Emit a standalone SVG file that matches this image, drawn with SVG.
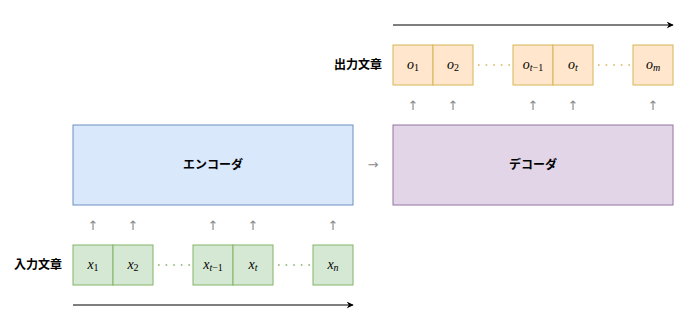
<svg xmlns="http://www.w3.org/2000/svg" width="690" height="327" viewBox="0 0 690 327">
<defs>
<marker id="ah" viewBox="0 0 10 10" refX="9" refY="5" markerWidth="7" markerHeight="7" markerUnits="userSpaceOnUse" orient="auto"><path d="M0,0 L10,5 L0,10 L3,5 Z" fill="#000"/></marker>
</defs>
<style>
.in{fill:#d5e8d4;stroke:#82b366;stroke-width:1}
.out{fill:#ffe6cc;stroke:#d6b656;stroke-width:1}
.enc{fill:#dae8fc;stroke:#6c8ebf;stroke-width:1}
.dec{fill:#e1d5e7;stroke:#9673a6;stroke-width:1}
.m{font-family:"Liberation Serif",serif;font-style:italic;font-size:14px;fill:#000;text-anchor:middle}
.sub{font-size:10px;font-style:normal}
.subi{font-size:10px;font-style:italic}
.lbl{font-family:"Noto Sans CJK JP","Noto Sans",sans-serif;font-weight:bold;font-size:12px;fill:#000}
.big{font-family:"Noto Sans CJK JP","Noto Sans",sans-serif;font-weight:bold;font-size:12px;fill:#000;text-anchor:middle}
.up{font-family:"DejaVu Sans",sans-serif;font-size:13px;fill:#8c8c8c;text-anchor:middle}
.dotg{stroke:#82b366;stroke-width:1.6;stroke-dasharray:1.6 6;fill:none}
.doto{stroke:#d6b656;stroke-width:1.6;stroke-dasharray:1.6 6;fill:none}
</style>
<g id="connectors">
<line x1="73" y1="305" x2="353" y2="305" stroke="#000" stroke-width="1.2" marker-end="url(#ah)"/>
<line x1="393" y1="25" x2="673" y2="25" stroke="#000" stroke-width="1.2" marker-end="url(#ah)"/>
<line class="dotg" x1="158" y1="265" x2="192" y2="265"/>
<line class="dotg" x1="278" y1="265" x2="312" y2="265"/>
<line class="doto" x1="478" y1="65" x2="512" y2="65"/>
<line class="doto" x1="598" y1="65" x2="632" y2="65"/>
<text class="up" x="93" y="230">↑</text>
<text class="up" x="133" y="230">↑</text>
<text class="up" x="213" y="230">↑</text>
<text class="up" x="253" y="230">↑</text>
<text class="up" x="333" y="230">↑</text>
<text class="up" x="413" y="110">↑</text>
<text class="up" x="453" y="110">↑</text>
<text class="up" x="533" y="110">↑</text>
<text class="up" x="573" y="110">↑</text>
<text class="up" x="653" y="110">↑</text>
<text class="up" x="373" y="169">→</text>
</g>
<g id="encoder"><rect class="enc" x="73" y="125" width="280" height="80"/><text class="big" x="213" y="169">エンコーダ</text></g>
<g id="decoder"><rect class="dec" x="393" y="125" width="280" height="80"/><text class="big" x="533" y="169">デコーダ</text></g>
<g id="input-label"><text class="lbl" x="14" y="269">入力文章</text></g>
<g id="output-label"><text class="lbl" x="334" y="69">出力文章</text></g>
<g id="x1"><rect class="in" x="73" y="245" width="40" height="40"/><text class="m" x="93" y="269">x<tspan class="sub" dy="2">1</tspan></text></g>
<g id="x2"><rect class="in" x="113" y="245" width="40" height="40"/><text class="m" x="133" y="269">x<tspan class="sub" dy="2">2</tspan></text></g>
<g id="xt-1"><rect class="in" x="193" y="245" width="40" height="40"/><text class="m" x="213" y="269">x<tspan class="subi" dy="2">t</tspan><tspan class="sub">−1</tspan></text></g>
<g id="xt"><rect class="in" x="233" y="245" width="40" height="40"/><text class="m" x="253" y="269">x<tspan class="subi" dy="2">t</tspan></text></g>
<g id="xn"><rect class="in" x="313" y="245" width="40" height="40"/><text class="m" x="333" y="269">x<tspan class="subi" dy="2">n</tspan></text></g>
<g id="o1"><rect class="out" x="393" y="45" width="40" height="40"/><text class="m" x="413" y="69">o<tspan class="sub" dy="2">1</tspan></text></g>
<g id="o2"><rect class="out" x="433" y="45" width="40" height="40"/><text class="m" x="453" y="69">o<tspan class="sub" dy="2">2</tspan></text></g>
<g id="ot-1"><rect class="out" x="513" y="45" width="40" height="40"/><text class="m" x="533" y="69">o<tspan class="subi" dy="2">t</tspan><tspan class="sub">−1</tspan></text></g>
<g id="ot"><rect class="out" x="553" y="45" width="40" height="40"/><text class="m" x="573" y="69">o<tspan class="subi" dy="2">t</tspan></text></g>
<g id="om"><rect class="out" x="633" y="45" width="40" height="40"/><text class="m" x="653" y="69">o<tspan class="subi" dy="2">m</tspan></text></g>
</svg>
